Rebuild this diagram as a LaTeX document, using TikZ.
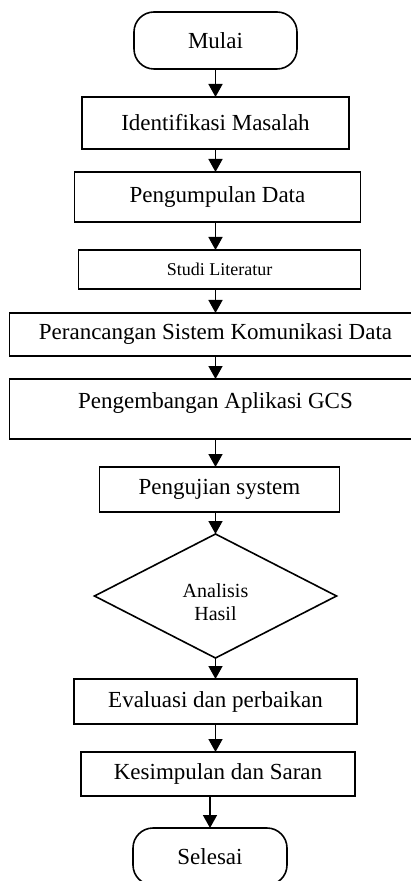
\documentclass[tikz,border=0pt]{standalone}
\usepackage{fontspec}
\setmainfont{Liberation Serif}
\usetikzlibrary{arrows.meta, positioning, shapes.geometric}

\begin{document}
\begin{tikzpicture}[
    line width=0.8pt,
    every node/.style={outer sep=0pt},
    terminal/.style={draw, rounded corners=10pt, minimum width=81.5pt, minimum height=28.5pt},
    process/.style={draw, rectangle, minimum height=22pt},
    decision/.style={draw, diamond, minimum width=121pt, minimum height=62pt, inner sep=0pt},
    arr/.style={-{Triangle[width=7pt,length=6.5pt]}},
    font=\fontsize{11.5}{13}\selectfont]
    \useasboundingbox (0,0) rectangle (205.5pt,-440.5pt);
    \node[terminal] (mulai) at (107.75pt,-20.25pt) {Mulai};
    \node[process, minimum width=133.5pt, minimum height=26pt, below=14pt of mulai] (identifikasi) {Identifikasi Masalah};
    \node[process, minimum width=143pt, minimum height=25pt, below=11.5pt of identifikasi, xshift=1pt] (pengumpulan) {Pengumpulan Data};
    \node[process, minimum width=141pt, minimum height=19.5pt, below=14pt of pengumpulan, xshift=1pt,
        font=\fontsize{9}{11}\selectfont] (studi) {Studi Literatur};
    \node[process, minimum width=206pt, minimum height=21.5pt, below=12pt of studi, xshift=-2pt] (perancangan) {Perancangan Sistem Komunikasi Data};
    \node[process, minimum width=206pt, minimum height=30pt, text depth=8.5pt, below=11.5pt of perancangan] (pengembangan) {Pengembangan Aplikasi GCS};
    \node[process, minimum width=120pt, minimum height=22.5pt, below=14pt of pengembangan, xshift=2pt] (pengujian) {Pengujian system};
    \node[decision, below=11pt of pengujian, xshift=-2pt] (analisis) {};
    \node[align=center, font=\fontsize{10}{11.5}\selectfont, yshift=-3pt] (analisisteks) at (analisis) {Analisis\\Hasil};
    \node[process, minimum width=141.5pt, minimum height=22.5pt, below=10.5pt of analisis] (evaluasi) {Evaluasi dan perbaikan};
    \node[process, minimum width=137pt, minimum height=22pt, below=14pt of evaluasi, xshift=1.25pt] (kesimpulan) {Kesimpulan dan Saran};
    \node[terminal, minimum width=77pt, below=16pt of kesimpulan, xshift=-4pt] (selesai) {Selesai};

    % alur
    \draw[arr] (mulai.south) -- (mulai.south |- identifikasi.north);
    \draw[arr] (identifikasi.south) -- (identifikasi.south |- pengumpulan.north);
    \draw[arr] (identifikasi.south |- pengumpulan.south) -- (identifikasi.south |- studi.north);
    \draw[arr] (identifikasi.south |- studi.south) -- (identifikasi.south |- perancangan.north);
    \draw[arr] (perancangan.south) -- (pengembangan.north);
    \draw[arr] (pengembangan.south) -- (pengembangan.south |- pengujian.north);
    \draw[arr] (analisis.north |- pengujian.south) -- (analisis.north);
    \draw[arr] (analisis.south) -- (evaluasi.north);
    \draw[arr] (evaluasi.south) -- (evaluasi.south |- kesimpulan.north);
    \draw[arr] (selesai.north |- kesimpulan.south) -- (selesai.north);
\end{tikzpicture}
\end{document}
